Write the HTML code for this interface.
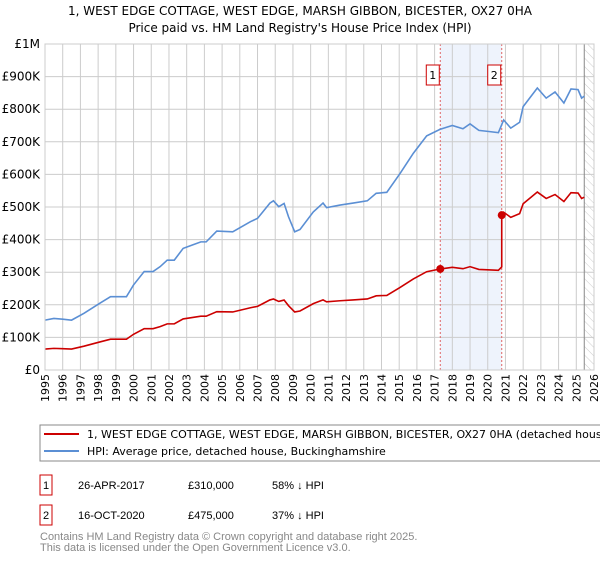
<!DOCTYPE html>
<html><head><meta charset="utf-8"><style>
body{margin:0;background:#fff;}
svg text{font-family:"DejaVu Sans","Liberation Sans",sans-serif;}
svg text.lib{font-family:"Liberation Sans",sans-serif;}
</style></head><body>
<svg id="c" width="600" height="560" xmlns="http://www.w3.org/2000/svg">
<text x="300" y="15" text-anchor="middle" font-size="12">1, WEST EDGE COTTAGE, WEST EDGE, MARSH GIBBON, BICESTER, OX27 0HA</text>
<text x="300" y="32" text-anchor="middle" font-size="12">Price paid vs. HM Land Registry's House Price Index (HPI)</text>
<defs><pattern id="hatch" width="6" height="6" patternUnits="userSpaceOnUse" patternTransform="rotate(-45)"><line x1="0" y1="0" x2="0" y2="6" stroke="#ccc" stroke-width="1"/></pattern></defs>
<g id="plot"></g>
<rect x="40" y="425" width="565" height="36" fill="#fff" stroke="#888"/>
<line x1="44" y1="434" x2="79" y2="434" stroke="#cc0000" stroke-width="2"/>
<text x="87" y="438" font-size="11">1, WEST EDGE COTTAGE, WEST EDGE, MARSH GIBBON, BICESTER, OX27 0HA (detached house)</text>
<line x1="44" y1="451" x2="79" y2="451" stroke="#5b8fd4" stroke-width="2"/>
<text x="87" y="455" font-size="11">HPI: Average price, detached house, Buckinghamshire</text>
<rect x="40" y="475" width="12" height="20" fill="none" stroke="#cc0000"/>
<text class="lib" x="46" y="489" font-size="11" text-anchor="middle">1</text>
<text class="lib" x="78" y="489" font-size="11">26-APR-2017</text>
<text class="lib" x="188" y="489" font-size="11">£310,000</text>
<text class="lib" x="272" y="489" font-size="11">58% ↓ HPI</text>
<rect x="40" y="505" width="12" height="20" fill="none" stroke="#cc0000"/>
<text class="lib" x="46" y="519" font-size="11" text-anchor="middle">2</text>
<text class="lib" x="78" y="519" font-size="11">16-OCT-2020</text>
<text class="lib" x="188" y="519" font-size="11">£475,000</text>
<text class="lib" x="272" y="519" font-size="11">37% ↓ HPI</text>
<text class="lib" x="40" y="540" font-size="11" fill="#888">Contains HM Land Registry data © Crown copyright and database right 2025.</text>
<text class="lib" x="40" y="551" font-size="11" fill="#888">This data is licensed under the Open Government Licence v3.0.</text>
</svg>
<script>
const hpiYears=[1995.0,1995.5,1996.0,1996.5,1997.2,1998.1,1998.7,1999.6,2000.0,2000.6,2001.1,2001.5,2001.9,2002.3,2002.8,2003.3,2003.8,2004.1,2004.7,2005.6,2006.6,2007.0,2007.3,2007.7,2007.9,2008.2,2008.5,2008.75,2009.1,2009.4,2010.15,2010.7,2010.9,2011.66,2012.4,2013.2,2013.7,2014.3,2015.05,2015.8,2016.55,2017.3,2017.7,2018.0,2018.6,2019.0,2019.5,2020.0,2020.6,2020.9,2021.3,2021.8,2022.0,2022.8,2023.3,2023.8,2024.3,2024.7,2025.1,2025.3,2025.45];
const hpiValues=[153,158,156,153,174,205,225,225,261,302,302,317,337,337,373,383,393,393,426,424,455,465,485,512,519,501,511,470,424,431,485,512,498,506,512,519,542,545,603,665,718,738,745,750,740,755,735,732,728,767,742,760,808,865,834,853,819,862,860,834,840];
const saleDates=[2017.32,2020.79];
const salePrices=[310,475];
const yTicks=[0,100,200,300,400,500,600,700,800,900,1000];
const yTickLabels=["£0","£100K","£200K","£300K","£400K","£500K","£600K","£700K","£800K","£900K","£1M"];
const xYears=[1995,1996,1997,1998,1999,2000,2001,2002,2003,2004,2005,2006,2007,2008,2009,2010,2011,2012,2013,2014,2015,2016,2017,2018,2019,2020,2021,2022,2023,2024,2025,2026];
const NS="http://www.w3.org/2000/svg";
const X0=45,X1=594,Y0=370,Y1=44;
const sx=y=>X0+(y-1995)/(2026-1995)*(X1-X0);
const sy=v=>Y0-v/1000*(Y0-Y1);
const g=document.getElementById('plot');
function mk(t,a){const e=document.createElementNS(NS,t);for(const k in a)e.setAttribute(k,a[k]);g.appendChild(e);return e;}
function hpiAt(y){for(let i=1;i<hpiYears.length;i++){if(y<=hpiYears[i]){const t=(y-hpiYears[i-1])/(hpiYears[i]-hpiYears[i-1]);return hpiValues[i-1]+t*(hpiValues[i]-hpiValues[i-1]);}}return hpiValues[hpiValues.length-1];}
let e;
e=mk('rect',{x:sx(saleDates[0]),y:Y1,width:sx(saleDates[1])-sx(saleDates[0]),height:Y0-Y1,fill:'#eef3fc'});


e=mk('rect',{x:sx(2025.45),y:Y1,width:X1-sx(2025.45),height:Y0-Y1,fill:'url(#hatch)'});


yTicks.forEach((v,i)=>{
 e=mk('line',{x1:X0,x2:X1,y1:sy(v),y2:sy(v),stroke:'#ccc'});
 
 
 e=mk('text',{x:40,y:sy(v)+4,'text-anchor':'end','font-size':'12'});e.textContent=yTickLabels[i];
 
 
});
xYears.forEach(y=>{
 e=mk('line',{x1:sx(y),x2:sx(y),y1:Y1,y2:Y0,stroke:'#ccc'});
 
 
 e=mk('text',{x:0,y:0,'font-size':'11','text-anchor':'end',transform:`translate(${sx(y)+4},374) rotate(-90)`});e.textContent=y;
 
 
});
e=mk('line',{x1:sx(2025.45),x2:sx(2025.45),y1:Y1,y2:Y0,stroke:'#888'});


saleDates.forEach((d,i)=>{
 e=mk('line',{x1:sx(d),x2:sx(d),y1:Y1,y2:Y0,stroke:'#e06666','stroke-dasharray':'2,2'});
 
 
 e=mk('rect',{x:sx(d)-14,y:65,width:13,height:20,fill:'#fff',stroke:'#cc0000'});
 
 
 e=mk('text',{x:sx(d)-7.5,y:79,'text-anchor':'middle','font-size':'11'});e.textContent=String(i+1);
 
 
});
e=mk('polyline',{points:hpiYears.map((y,i)=>sx(y)+','+sy(hpiValues[i])).join(' '),fill:'none',stroke:'#5b8fd4','stroke-width':'1.6'});


const r1=salePrices[0]/hpiAt(saleDates[0]),r2=salePrices[1]/hpiAt(saleDates[1]);
const pts=[];
hpiYears.forEach((y,i)=>{if(y<saleDates[1])pts.push([y,hpiValues[i]*r1]);});
pts.push([saleDates[1],hpiAt(saleDates[1])*r1]);pts.push([saleDates[1],salePrices[1]]);
hpiYears.forEach((y,i)=>{if(y>saleDates[1])pts.push([y,hpiValues[i]*r2]);});
e=mk('polyline',{points:pts.map(p=>sx(p[0])+','+sy(p[1])).join(' '),fill:'none',stroke:'#cc0000','stroke-width':'1.6'});


saleDates.forEach((d,i)=>{
 e=mk('circle',{cx:sx(d),cy:sy(salePrices[i]),r:4,fill:'#cc0000'});
 
 
});
e=mk('rect',{x:X0,y:Y1,width:X1-X0,height:Y0-Y1,fill:'none',stroke:'#ccc'});


</script>
</body></html>
